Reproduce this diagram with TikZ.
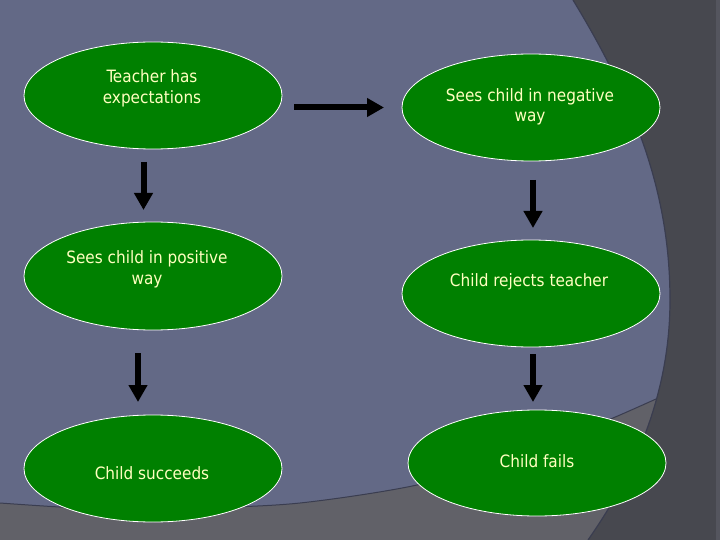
\documentclass[tikz,border=0pt]{standalone}
\usepackage{fontspec}
\newfontfamily\slidefont{DejaVu Sans Condensed}
\usetikzlibrary{shapes.geometric, arrows.meta}

\definecolor{slate}{RGB}{99,105,134}
\definecolor{slateband}{RGB}{97,97,104}
\definecolor{slatedark}{RGB}{71,72,79}
\definecolor{slateedge}{RGB}{58,61,80}
\definecolor{slatestrip}{RGB}{84,85,94}
\definecolor{leafgreen}{RGB}{0,128,0}
\definecolor{paleyellow}{RGB}{255,255,192}

\begin{document}
\begin{tikzpicture}[x=1pt, y=-1pt,
    bubble/.style={ellipse, draw=white, line width=0.8pt, fill=leafgreen,
        minimum width=258pt, minimum height=107pt, inner sep=0pt, outer sep=0pt},
    words/.style={text=paleyellow, font=\slidefont\fontsize{17}{20.5}\selectfont,
        align=center, inner sep=0pt},
    fatarrow/.style={line width=6pt, -{Triangle[length=17pt, width=18pt]}}]
    \useasboundingbox (0,0) rectangle (720,540);

    % Slide background
    \fill[slate] (0,0) rectangle (720,540);
    \fill[slateband] plot[smooth] coordinates {(0,503) (100,509) (200,508) (300,503) (417,485) (520,455) (613,418) (720,370)}
        -- (720,540) -- (0,540) -- cycle;
    \draw[slateedge, line width=1pt] plot[smooth] coordinates {(0,503) (100,509) (200,508) (300,503) (417,485) (520,455) (613,418) (720,370)};
    \fill[slatedark] (573,0) .. controls (640,110) and (670,200) .. (670,300)
        .. controls (670,400) and (630,480) .. (588,540) -- (720,540) -- (720,0) -- cycle;
    \draw[slateedge, line width=1.2pt] (573,0) .. controls (640,110) and (670,200) .. (670,300)
        .. controls (670,400) and (630,480) .. (588,540);
    \fill[slatestrip] (716,0) rectangle (720,540);

    % Left column
    \node[bubble] (teach) at (153,95.5) {};
    \node[words] (teach-txt) at (152,88.5) {Teacher has\\expectations};
    \node[bubble, minimum height=108pt] (pos) at (153,276) {};
    \node[words] (pos-txt) at (147,269.5) {Sees child in positive\\way};
    \node[bubble] (succ) at (153,468.5) {};
    \node[words] (succ-txt) at (152,473.5) {Child succeeds};

    % Right column
    \node[bubble] (neg) at (531,107.5) {};
    \node[words] (neg-txt) at (530,107) {Sees child in negative\\way};
    \node[bubble] (rej) at (531,293.5) {};
    \node[words] (rej-txt) at (529,281.5) {Child rejects teacher};
    \node[bubble, minimum height=106pt] (fails) at (537,463) {};
    \node[words] (fails-txt) at (537,461.5) {Child fails};

    % Arrows
    \draw[fatarrow, shorten <=12pt, shorten >=18pt] (teach.east |- neg.west) -- (neg.west);
    \draw[fatarrow, shorten <=13pt, shorten >=12pt] ([xshift=-9.5pt]teach.south) -- ([xshift=-9.5pt]pos.north);
    \draw[fatarrow, shorten <=23pt, shorten >=13pt] ([xshift=-15pt]pos.south) -- ([xshift=-15pt]succ.north);
    \draw[fatarrow, shorten <=19pt, shorten >=12pt] ([xshift=2pt]neg.south) -- ([xshift=2pt]rej.north);
    \draw[fatarrow, shorten <=7pt, shorten >=8pt] ([xshift=2pt]rej.south) -- ([xshift=2pt]rej.south |- fails.north);
\end{tikzpicture}
\end{document}
